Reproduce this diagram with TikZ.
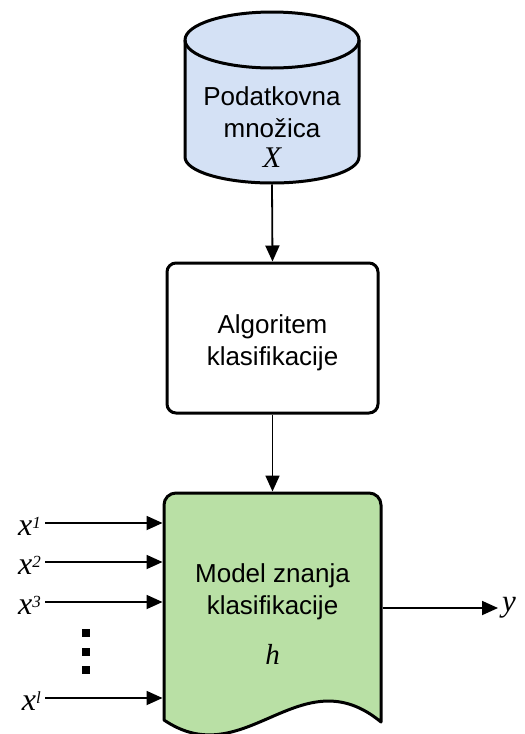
\documentclass[tikz,border=0pt]{standalone}
\usepackage{fontspec}
\setmainfont{Liberation Sans}
\newfontfamily\serifit{Liberation Serif}
\usetikzlibrary{arrows.meta}

\definecolor{datafill}{HTML}{D4E1F5}
\definecolor{modelfill}{HTML}{B9E0A5}

% superscript for the input labels
\newcommand\insup[1]{\raisebox{7pt}{\fontsize{17}{17}\selectfont\serifit\itshape #1}}
% italic variable letter at a given size
\newcommand\mvar[2]{{\fontsize{#1}{#1}\selectfont\serifit\itshape #2}}

\tikzset{
  shapeline/.style={line width=3pt, line join=round},
  arr/.style={line width=1.8pt, -{Triangle[length=16pt,width=14pt]}},
  boxtext/.style={font=\fontsize{26}{32}\selectfont, align=center, inner sep=0pt},
  frame/.style={inner sep=0pt, outer sep=1.5pt, draw=none},
  vlabel/.style={inner sep=0pt},
  dotsq/.style={fill=black, minimum size=8pt, inner sep=0pt},
}

\begin{document}
\begin{tikzpicture}[x=1pt,y=1pt]
\useasboundingbox (0,0) rectangle (525,-734);

% data set (cylinder)
\node[frame, minimum width=174pt, minimum height=171pt] (data) at (272,-97.5) {};
\path[shapeline, draw, fill=datafill]
  (185,-40) -- (185,-157)
  arc[start angle=180, end angle=360, x radius=87, y radius=26]
  -- (359,-40)
  arc[start angle=0, end angle=180, x radius=87, y radius=28] -- cycle;
\draw[shapeline] (185,-40) arc[start angle=180, end angle=360, x radius=87, y radius=28];
\node[boxtext] (datatext) at (272,-127.5)
  {Podatkovna\\množica\\[-2pt]\mvar{30}{X}};

% learning algorithm
\node[draw, shapeline, rounded corners=9pt, minimum width=211pt, minimum height=150pt]
  (algo) at (272.5,-338) {};
\node[boxtext] (algotext) at (272.5,-343) {Algoritem\\klasifikacije};

% classification model (document shape)
\node[frame, minimum width=217pt, minimum height=227pt] (model) at (272.5,-606.5) {};
\path[shapeline, draw, fill=modelfill]
  (164,-720) -- (164,-505) arc[start angle=180, end angle=90, radius=12]
  -- (369,-493) arc[start angle=90, end angle=0, radius=12]
  -- (381,-722) .. controls (300,-655) and (245,-775) .. (164,-720) -- cycle;
\node[boxtext] (modeltext) at (272.5,-614)
  {Model znanja\\klasifikacije\\[18pt]\mvar{29}{h}};

% flow
\draw[arr] (data.south) -- (algo.north);
\draw[arr] (algo.south) -- (model.north);

% inputs
\node[vlabel, anchor=base east] (l1) at (41,-535.5) {\mvar{32}{x}\insup{1}};
\node[vlabel, anchor=base east] (l2) at (41,-574.5) {\mvar{32}{x}\insup{2}};
\node[vlabel, anchor=base east] (l3) at (41,-614.5) {\mvar{32}{x}\insup{3}};
\node[vlabel, anchor=base east] (ll) at (41,-710.5) {\mvar{32}{x}\insup{l}};
\coordinate (i1) at (45,-523);
\coordinate (i2) at (45,-562);
\coordinate (i3) at (45,-602);
\coordinate (il) at (45,-698);
\draw[arr] (i1) -- (i1 -| model.west);
\draw[arr] (i2) -- (i2 -| model.west);
\draw[arr] (i3) -- (i3 -| model.west);
\draw[arr] (il) -- (il -| model.west);

\node[dotsq] (d1) at (86,-633) {};
\node[dotsq] (d2) at (86,-652) {};
\node[dotsq] (d3) at (86,-670) {};

% output
\coordinate (yout) at (498,-608);
\draw[arr] (model.east |- yout) -- (yout);
\node[vlabel, anchor=base west] (y) at (502,-611) {\mvar{31}{y}};
\end{tikzpicture}
\end{document}
